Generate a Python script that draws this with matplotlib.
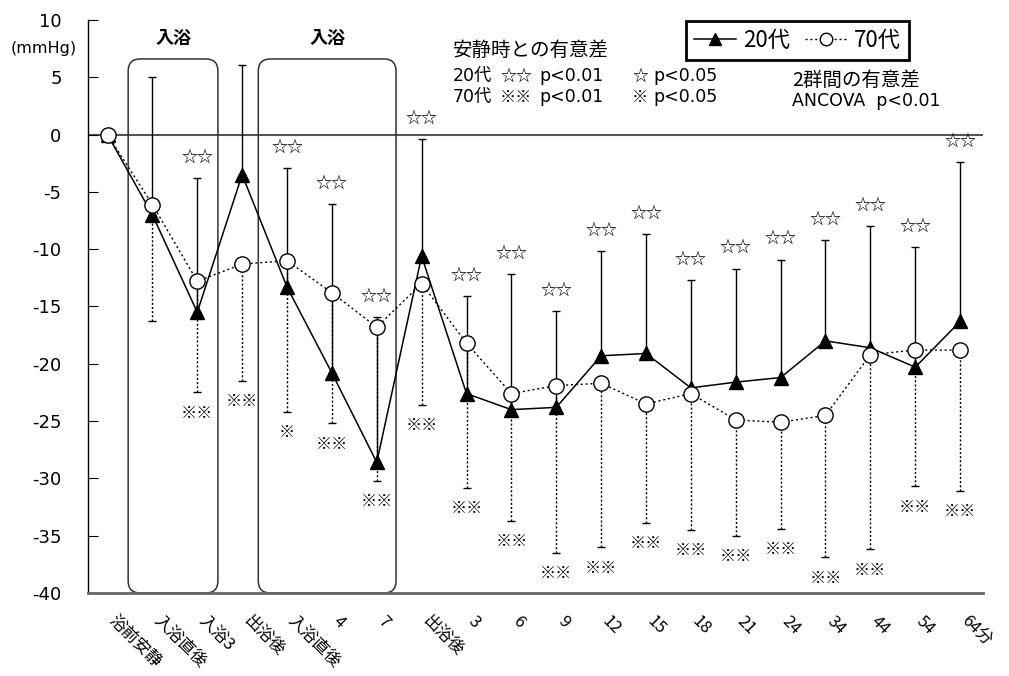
import numpy as np
import matplotlib
matplotlib.use('Agg')
import matplotlib.pyplot as plt
from matplotlib.patches import FancyBboxPatch
from matplotlib.lines import Line2D
from matplotlib.transforms import ScaledTranslation

plt.rcParams['font.family'] = ['Noto Sans CJK JP', 'DejaVu Sans']
plt.rcParams['axes.unicode_minus'] = False
LATIN = ['DejaVu Sans', 'Noto Sans CJK JP']
CJK = ['Noto Sans CJK JP', 'DejaVu Sans']

# ---- data ----
labels = ['浴前安静', '入浴直後', '入浴3', '出浴後', '入浴直後', '4', '7', '出浴後',
          '3', '6', '9', '12', '15', '18', '21', '24', '34', '44', '54', '64分']
mean20 = [0.0, -7.0, -15.5, -3.5, -13.3, -20.8, -28.6, -10.6, -22.6, -24.0,
          -23.8, -19.3, -19.1, -22.1, -21.6, -21.2, -18.0, -18.6, -20.3, -16.3]
sd20 = [0.0, 12.0, 11.7, 9.6, 10.4, 14.75, 12.7, 10.2, 8.5, 11.8,
        8.4, 9.1, 10.4, 9.4, 9.9, 10.3, 8.8, 10.6, 10.5, 13.9]
mean70 = [0.0, -6.1, -12.8, -11.3, -11.0, -13.8, -16.8, -13.0, -18.2, -22.6,
          -21.9, -21.7, -23.5, -22.6, -24.9, -25.1, -24.5, -19.2, -18.8, -18.8]
sd70 = [0.0, 10.2, 9.7, 10.2, 13.2, 11.4, 13.4, 10.6, 12.6, 11.1,
        14.6, 14.3, 10.4, 11.9, 10.1, 9.3, 12.4, 17.0, 11.9, 12.3]
sig20 = ['', '', '☆☆', '', '☆☆', '☆☆', '☆☆', '☆☆', '☆☆', '☆☆',
         '☆☆', '☆☆', '☆☆', '☆☆', '☆☆', '☆☆', '☆☆', '☆☆', '☆☆', '☆☆']
sig70 = ['', '', '※※', '※※', '※', '※※', '※※', '※※', '※※', '※※',
         '※※', '※※', '※※', '※※', '※※', '※※', '※※', '※※', '※※', '※※']
yticks = [10, 5, 0, -5, -10, -15, -20, -25, -30, -35, -40]
bath_periods = [(0.46, 2.46), (3.36, 6.43)]

W, H = 1009, 676
fig = plt.figure(figsize=(W / 100, H / 100), dpi=100)
ax = fig.add_axes([88 / W, 1 - 593 / H, (983 - 88) / W, (593 - 20) / H])
x = np.arange(len(labels))
ax.set_xlim(-0.435, 19.51)
ax.set_ylim(-40, 10)

m20 = np.array(mean20); s20 = np.array(sd20)
m70 = np.array(mean70); s70 = np.array(sd70)

# zero line
ax.axhline(0, color='#555555', lw=1.5, zorder=1)

# bath boxes
px_x = (983 - 88) / (19.51 + 0.435)
px_y = (593 - 20) / 50.0
for (a, b) in bath_periods:
    p = FancyBboxPatch((a, -40), b - a, 6.6 + 40,
                       boxstyle='round,pad=0,rounding_size=0.27',
                       mutation_aspect=px_x / px_y,
                       fc='none', ec='#333333', lw=1.1, zorder=1)
    ax.add_patch(p)
    ax.text((a + b) / 2, 8.4, '入浴', ha='center', va='center', fontsize=13,
            fontweight='bold')

# error bars
e20 = ax.errorbar(x, m20, yerr=[np.zeros_like(s20), s20], fmt='none',
                  ecolor='black', elinewidth=1.0, capsize=3, capthick=1.0, zorder=2)
e70 = ax.errorbar(x, m70, yerr=[s70, np.zeros_like(s70)], fmt='none',
                  ecolor='black', elinewidth=1.0, capsize=3, capthick=1.0, zorder=2)
for lc in e70[2]:
    lc.set_linestyle((0, (1.5, 1.5)))

# lines
ax.plot(x, m20, color='black', lw=1.1, marker='^', ms=10, mfc='black',
        mec='black', zorder=3)
ax.plot(x, m70, color='black', lw=1.0, ls=(0, (1.5, 2)), marker='o', ms=11,
        mfc='white', mec='black', mew=1.0, zorder=4)

# significance marks
for i in range(len(labels)):
    if sig20[i]:
        ax.annotate(sig20[i], (x[i], m20[i] + s20[i]), xytext=(0, 15),
                    textcoords='offset points', ha='center', va='center',
                    fontsize=11.5)
    if sig70[i]:
        ax.annotate(sig70[i], (x[i], m70[i] - s70[i]), xytext=(0, -15),
                    textcoords='offset points', ha='center', va='center',
                    fontsize=11.5)

# axes styling
for s in ['top', 'right']:
    ax.spines[s].set_visible(False)
ax.spines['left'].set_color('black')
ax.spines['left'].set_linewidth(1.0)
ax.spines['bottom'].set_color('#666666')
ax.spines['bottom'].set_linewidth(2.0)
ax.set_yticks(yticks)
ax.set_yticklabels([str(v) for v in yticks], family=LATIN)
ax.tick_params(axis='y', direction='in', length=7, pad=19, labelsize=13)
ax.set_xticks(x)
ax.set_xticklabels(labels, rotation=-45, ha='left', va='top',
                   rotation_mode='anchor', fontsize=12)
ax.tick_params(axis='x', length=0, pad=14)
off = ScaledTranslation(7 / 72, 0, fig.dpi_scale_trans)
for lab in ax.get_xticklabels():
    lab.set_transform(lab.get_transform() + off)

fig.text(44 / W, 1 - 48 / H, '(mmHg)', ha='center', va='center', fontsize=11.5,
         family=LATIN)

# annotation texts
fig.text(453 / W, 1 - 50 / H, '安静時との有意差', ha='left', va='center', fontsize=14)
legend_rows = [
    (76, [(453, '20代', LATIN, 12.5), (500, '☆☆', CJK, 11.5),
          (539, 'p<0.01', LATIN, 12.5), (632, '☆', CJK, 11.5),
          (653, 'p<0.05', LATIN, 12.5)]),
    (97, [(453, '70代', LATIN, 12.5), (500, '※※', CJK, 11.5),
          (539, 'p<0.01', LATIN, 12.5), (632, '※', CJK, 11.5),
          (653, 'p<0.05', LATIN, 12.5)]),
]
for ypix, parts in legend_rows:
    for xpix, txt, fam, fs in parts:
        fig.text(xpix / W, 1 - ypix / H, txt, ha='left', va='center',
                 fontsize=fs, family=fam)
fig.text(792 / W, 1 - 80 / H, '2群間の有意差', ha='left', va='center', fontsize=14)
fig.text(792 / W, 1 - 101 / H, 'ANCOVA  p<0.01', ha='left', va='center',
         fontsize=12.5, family=LATIN)

# legend
h20 = Line2D([], [], color='black', lw=1.1, marker='^', ms=9, mfc='black')
h70 = Line2D([], [], color='black', lw=1.0, ls=(0, (1.5, 2)), marker='o', ms=9,
             mfc='white', mec='black')
leg = ax.legend([h20, h70], ['20代', '70代'], loc='upper left',
                bbox_to_anchor=(686 / W, 1 - 21 / H), bbox_transform=fig.transFigure,
                ncol=2, frameon=True, fancybox=False, edgecolor='black',
                framealpha=1, fontsize=16, handlelength=1.9, columnspacing=0.7,
                handletextpad=0.3, borderpad=0.35, borderaxespad=0)
leg.get_frame().set_linewidth(2.0)

fig.savefig('out.png', dpi=100)
